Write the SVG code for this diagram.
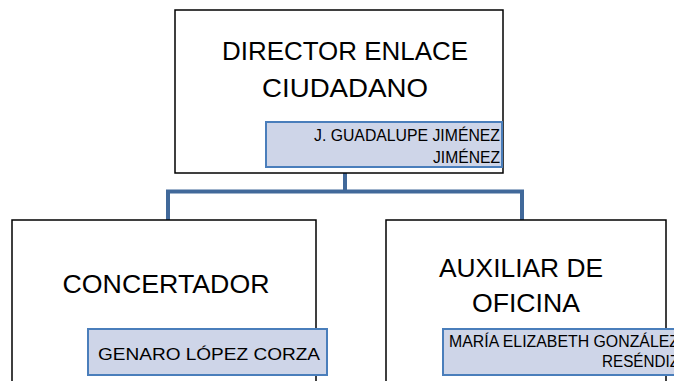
<svg xmlns="http://www.w3.org/2000/svg" width="674" height="381" viewBox="0 0 674 381">
<style>
.box{fill:#fff;stroke:#000;stroke-width:1.5}
.name{fill:#ced5e8;stroke:#4a7ebb;stroke-width:2}
.t{font-family:"Liberation Sans",Arial,sans-serif;fill:#000}
.big{font-size:25px;text-anchor:middle}
.sm{font-size:16px;text-anchor:end}
.conn{fill:none;stroke:#41699a;stroke-width:4}
</style>
<rect width="674" height="381" fill="#fff"/>
<g id="connectors">
<path class="conn" d="M345 173V191.5M166 191.5H524M168 191.5V221M522 191.5V221"/>
</g>
<g id="director">
<rect class="box" x="175" y="10" width="328" height="163"/>
<text class="t big" x="345" y="60" textLength="246" lengthAdjust="spacingAndGlyphs">DIRECTOR ENLACE</text>
<text class="t big" x="345" y="97" textLength="166" lengthAdjust="spacingAndGlyphs">CIUDADANO</text>
<rect class="name" x="266" y="122" width="236" height="45"/>
<text class="t sm" x="500" y="141" textLength="186" lengthAdjust="spacingAndGlyphs">J. GUADALUPE JIMÉNEZ</text>
<text class="t sm" x="500" y="163" textLength="67" lengthAdjust="spacingAndGlyphs">JIMÉNEZ</text>
</g>
<g id="concertador">
<rect class="box" x="12" y="220" width="304" height="170"/>
<text class="t big" x="166" y="293" textLength="207" lengthAdjust="spacingAndGlyphs">CONCERTADOR</text>
<rect class="name" x="88" y="329" width="239" height="46"/>
<text class="t" x="98" y="360" font-size="17" textLength="222" lengthAdjust="spacingAndGlyphs">GENARO LÓPEZ CORZA</text>
</g>
<g id="auxiliar">
<rect class="box" x="386" y="220" width="280" height="170"/>
<text class="t big" x="521" y="277" textLength="164" lengthAdjust="spacingAndGlyphs">AUXILIAR DE</text>
<text class="t big" x="526" y="312" textLength="108" lengthAdjust="spacingAndGlyphs">OFICINA</text>
<rect class="name" x="443" y="329" width="240" height="46"/>
<text class="t sm" x="679" y="347" textLength="230" lengthAdjust="spacingAndGlyphs">MARÍA ELIZABETH GONZÁLEZ</text>
<text class="t sm" x="679" y="367" textLength="77" lengthAdjust="spacingAndGlyphs">RESÉNDIZ</text>
</g>
</svg>
